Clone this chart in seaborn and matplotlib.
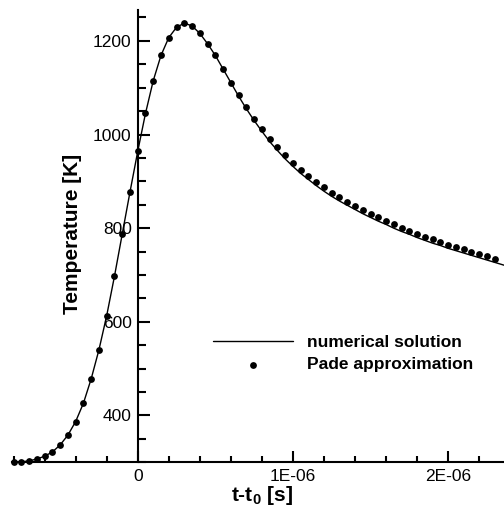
import numpy as np
import pandas as pd
import matplotlib
matplotlib.use("Agg")
import matplotlib.pyplot as plt
import seaborn as sns
from matplotlib.ticker import MultipleLocator, FixedLocator, FixedFormatter

# time axis in microseconds (converted to seconds for plotting)
t_dots_us = [-0.80, -0.75, -0.70, -0.65, -0.60, -0.55, -0.50, -0.45, -0.40, -0.35,
             -0.30, -0.25, -0.20, -0.15, -0.10, -0.05, 0.00, 0.05, 0.10, 0.15,
             0.20, 0.25, 0.30, 0.35, 0.40, 0.45, 0.50, 0.55, 0.60, 0.65,
             0.70, 0.75, 0.80, 0.85, 0.90, 0.95, 1.00, 1.05, 1.10, 1.15,
             1.20, 1.25, 1.30, 1.35, 1.40, 1.45, 1.50, 1.55, 1.60, 1.65,
             1.70, 1.75, 1.80, 1.85, 1.90, 1.95, 2.00, 2.05, 2.10, 2.15,
             2.20, 2.25, 2.30]

# Pade approximation (dots)
T_pade = [300, 301, 303, 307, 313, 322, 337, 358, 387, 426,
          478, 540, 613, 697, 787, 877, 964, 1045, 1115, 1169,
          1207, 1229, 1238, 1232, 1216, 1194, 1169, 1140, 1111, 1084,
          1058, 1034, 1012, 991, 973, 956, 940, 925, 912, 899,
          887, 876, 866, 857, 848, 839, 830, 823, 815, 808,
          801, 794, 788, 782, 776, 771, 765, 760, 755, 750,
          745, 740, 735]

# numerical solution (line)
t_line_us = t_dots_us + [2.36]
T_num = [300, 301, 303, 307, 313, 322, 337, 358, 387, 426,
         478, 540, 613, 697, 787, 877, 964, 1045, 1115, 1169,
         1207, 1229, 1238, 1232, 1216, 1194, 1169, 1140, 1111, 1082,
         1055, 1030, 1007, 985, 966, 948, 932, 917, 904, 891,
         879, 868, 858, 849, 840, 831, 823, 815, 808, 800,
         793, 787, 780, 774, 768, 763, 757, 752, 747, 742,
         737, 732, 727, 721]

x_ticks = [0.0, 1e-6, 2e-6]
x_ticklabels = ["0", "1E-06", "2E-06"]

sns.set_style("ticks")
plt.rcParams["font.family"] = ["Liberation Sans", "DejaVu Sans"]
plt.rcParams["mathtext.fontset"] = "custom"
plt.rcParams["mathtext.rm"] = "Liberation Sans"
plt.rcParams["mathtext.bf"] = "Liberation Sans:bold"
for key in ("text.color", "axes.labelcolor", "xtick.color", "ytick.color", "axes.edgecolor"):
    plt.rcParams[key] = "black"

line_df = pd.DataFrame({"t": np.array(t_line_us) * 1e-6, "T": T_num})
dot_df = pd.DataFrame({"t": np.array(t_dots_us) * 1e-6, "T": T_pade})

fig = plt.figure(figsize=(5.04, 5.14), dpi=100)
ax = fig.add_axes([12 / 504, 1 - 462.3 / 514, 492 / 504, 452.3 / 514])

sns.lineplot(data=line_df, x="t", y="T", color="black", linewidth=1.0,
             label="numerical solution", ax=ax, sort=False)
sns.scatterplot(data=dot_df, x="t", y="T", color="black", s=24, linewidth=0,
                label="Pade approximation", ax=ax, clip_on=False, zorder=3)

ax.set_xlim(-0.81e-6, 2.36e-6)
ax.set_ylim(300, 1266)

# spines: y axis crosses at t = 0
ax.spines["left"].set_position(("data", 0))
ax.spines["top"].set_visible(False)
ax.spines["right"].set_visible(False)
for s in ("left", "bottom"):
    ax.spines[s].set_linewidth(1.5)

ax.xaxis.set_major_locator(FixedLocator(x_ticks))
ax.xaxis.set_major_formatter(FixedFormatter(x_ticklabels))
ax.xaxis.set_minor_locator(MultipleLocator(0.2e-6))
ax.yaxis.set_major_locator(MultipleLocator(200))
ax.yaxis.set_minor_locator(MultipleLocator(50))

ax.tick_params(which="both", direction="in", width=1.5, labelsize=12.5,
               colors="black")
ax.tick_params(axis="x", which="major", length=8, pad=5)
ax.tick_params(axis="x", which="minor", length=4.3)
ax.tick_params(axis="y", which="major", length=8.6, pad=4.3)
ax.tick_params(axis="y", which="minor", length=5.8)

ax.set_xlabel(r"t-t$_\mathbf{0}$ [s]", fontsize=15, fontweight="bold")
ax.set_ylabel("Temperature [K]", fontsize=15, fontweight="bold")
ax.xaxis.set_label_coords(0.509, -0.048)
ax.yaxis.set_label_coords(0.142, 0.505)

ax.legend(frameon=False, loc="center left", bbox_to_anchor=(0.4085, 0.2405),
          handlelength=4.6, handletextpad=0.8, labelspacing=0.4,
          borderpad=0, borderaxespad=0,
          prop={"weight": "bold", "size": 12.5})

fig.savefig("out.png", dpi=100)
